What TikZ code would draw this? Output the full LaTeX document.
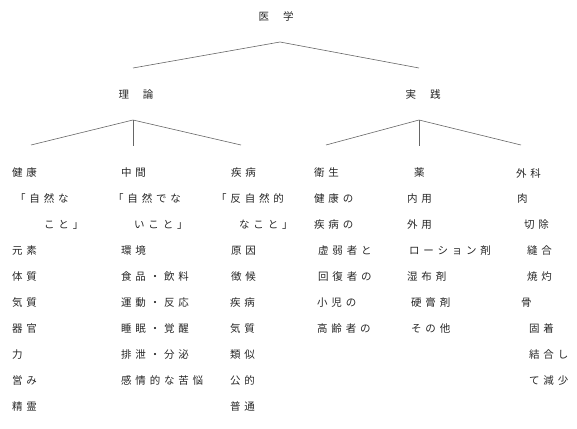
\documentclass[tikz,border=0pt]{standalone}
\usepackage{fontspec}
\newfontfamily\jp{Noto Sans CJK JP}[LetterSpace=36]
\tikzset{
  txt/.style={anchor=west, inner sep=0pt, font=\jp\fontsize{10.5}{12}\selectfont, text=black!85},
  head/.style={anchor=center, inner sep=0pt, font=\jp\fontsize{10.5}{12}\selectfont, text=black!85},
  branch/.style={draw=black!60, line width=0.6pt}
}
\begin{document}
\begin{tikzpicture}[x=1pt,y=-1pt]
\useasboundingbox (0,0) rectangle (577,428);
% headings
\node[head] (igaku) at (276,16) {医\hspace{14pt}学};
\node[head] (riron) at (136,95) {理\hspace{14pt}論};
\node[head] (jissen) at (423,95) {実\hspace{14pt}践};
% branch points
\coordinate (A) at (280,42);
\coordinate (L1) at (133,68);
\coordinate (R1) at (419,68);
\coordinate (LA) at (133,120);
\coordinate (LL) at (31,145);
\coordinate (LR) at (241,145);
\coordinate (LV) at (133,146);
\coordinate (RA) at (419,120);
\coordinate (RL) at (326,145);
\coordinate (RR) at (521,145);
\coordinate (RV) at (419,146);
\draw[branch] (L1) -- (A) -- (R1);
\draw[branch] (LL) -- (LA) -- (LR);
\draw[branch] (LA) -- (LV);
\draw[branch] (RL) -- (RA) -- (RR);
\draw[branch] (RA) -- (RV);
% columns
\foreach \dx/\t [count=\i from 0] in {12/健康,15/「自然な,44/こと」,12/元素,12/体質,12/気質,12/器官,12/力,12/営み,12/精霊}
  \node[txt] (ca-\i) at ({\dx},{173+25.9*\i}) {\t};
\foreach \dx/\t [count=\i from 0] in {121/中間,113/「自然でな,134/いこと」,121/環境,121/食品・飲料,121/運動・反応,121/睡眠・覚醒,121/排泄・分泌,121/感情的な苦悩}
  \node[txt] (cb-\i) at ({\dx},{173+25.9*\i}) {\t};
\foreach \dx/\t [count=\i from 0] in {231/疾病,216/「反自然的,239/なこと」,231/原因,231/徴候,230/疾病,230/気質,230/類似,230/公的,230/普通}
  \node[txt] (cc-\i) at ({\dx},{173+25.9*\i}) {\t};
\foreach \dx/\t [count=\i from 0] in {314/衛生,314/健康の,314/疾病の,318/虚弱者と,318/回復者の,317/小児の,317/高齢者の}
  \node[txt] (cd-\i) at ({\dx},{173+25.9*\i}) {\t};
\foreach \dx/\t [count=\i from 0] in {414/薬,407/内用,407/外用,409/ローション剤,407/湿布剤,411/硬膏剤,411/その他}
  \node[txt] (ce-\i) at ({\dx},{173+25.9*\i}) {\t};
\foreach \dx/\t [count=\i from 0] in {516/外科,517/肉,524/切除,527/縫合,527/焼灼,521/骨,529/固着,529/結合し,529/て減少}
  \node[txt] (cf-\i) at ({\dx},{173+25.9*\i}) {\t};
\end{tikzpicture}
\end{document}
